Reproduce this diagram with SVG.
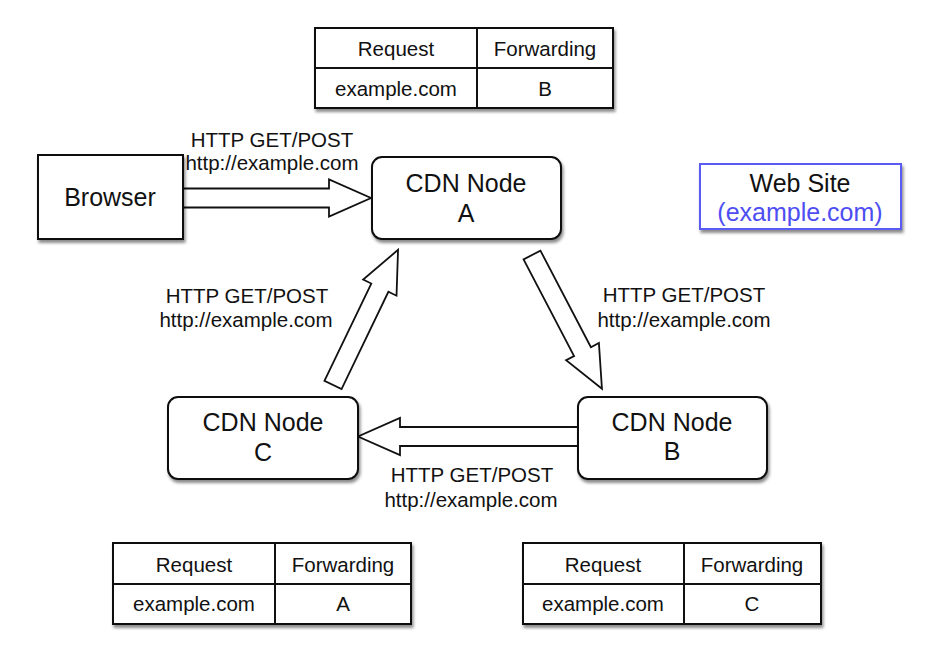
<svg xmlns="http://www.w3.org/2000/svg" width="932" height="646" viewBox="0 0 932 646">
  <defs>
    <filter id="shadow" x="-10%" y="-10%" width="130%" height="140%">
      <feDropShadow dx="1.5" dy="3" stdDeviation="1.8" flood-color="#000" flood-opacity="0.45"/>
    </filter>
  </defs>
  <style>
    text { font-family: "Liberation Sans", Arial, sans-serif; fill: #111; text-anchor: middle; }
    .node { font-size: 25px; }
    .lbl { font-size: 20.5px; }
    .tbl { font-size: 20.5px; }
    .box { fill: #fff; stroke: #111; stroke-width: 2; filter: url(#shadow); }
    .line { stroke: #111; stroke-width: 2; fill: none; }
    .arrow { fill: #fff; stroke: #111; stroke-width: 1.8; stroke-linejoin: miter; }
    .blue { fill: #4d4df2; }
  </style>
  <rect width="932" height="646" fill="#fff"/>

  <g id="connectors">
    <polygon class="arrow" transform="translate(182,198)" points="0,-9.5 147,-9.5 147,-18.5 189,0 147,18.5 147,9.5 0,9.5"/>
    <polygon class="arrow" transform="translate(532,255) rotate(62.4)" points="0,-9.5 109,-9.5 109,-18.5 151,0 109,18.5 109,9.5 0,9.5"/>
    <polygon class="arrow" transform="translate(333,385) rotate(-64.3)" points="0,-9.5 108,-9.5 108,-18.5 150,0 108,18.5 108,9.5 0,9.5"/>
    <polygon class="arrow" transform="translate(578,436.5) rotate(180)" points="0,-9.5 178,-9.5 178,-18.5 220,0 178,18.5 178,9.5 0,9.5"/>
    <text class="lbl" x="272" y="147">HTTP GET/POST</text>
    <text class="lbl" x="272" y="170">http://example.com</text>
    <text class="lbl" x="684" y="302">HTTP GET/POST</text>
    <text class="lbl" x="684" y="327">http://example.com</text>
    <text class="lbl" x="247" y="303">HTTP GET/POST</text>
    <text class="lbl" x="246" y="327">http://example.com</text>
    <text class="lbl" x="472" y="482">HTTP GET/POST</text>
    <text class="lbl" x="471" y="507">http://example.com</text>
  </g>

  <g id="table-top">
    <rect class="box" x="315" y="28" width="298" height="80"/>
    <line class="line" x1="315" y1="68" x2="613" y2="68"/>
    <line class="line" x1="477" y1="28" x2="477" y2="108"/>
    <text class="tbl" x="396" y="56">Request</text>
    <text class="tbl" x="545" y="56">Forwarding</text>
    <text class="tbl" x="396" y="96">example.com</text>
    <text class="tbl" x="545" y="96">B</text>
  </g>

  <g id="browser">
    <rect class="box" x="38" y="155" width="145" height="84"/>
    <text class="node" x="110" y="206">Browser</text>
  </g>

  <g id="cdn-a">
    <rect class="box" x="372" y="157" width="189" height="82" rx="10"/>
    <text class="node" x="466" y="192">CDN Node</text>
    <text class="node" x="466" y="222">A</text>
  </g>

  <g id="website">
    <rect x="700" y="164" width="201" height="65" fill="#fff" stroke="#5a5af5" stroke-width="2" filter="url(#shadow)"/>
    <text class="node" x="800" y="192">Web Site</text>
    <text class="node blue" x="800" y="221">(example.com)</text>
  </g>

  <g id="cdn-b">
    <rect class="box" x="578" y="397" width="189" height="82" rx="10"/>
    <text class="node" x="672" y="431">CDN Node</text>
    <text class="node" x="672" y="460">B</text>
  </g>

  <g id="cdn-c">
    <rect class="box" x="168" y="397" width="190" height="82" rx="10"/>
    <text class="node" x="263" y="431">CDN Node</text>
    <text class="node" x="263" y="461">C</text>
  </g>

  <g id="table-a">
    <rect class="box" x="113" y="543" width="298" height="81"/>
    <line class="line" x1="113" y1="584" x2="411" y2="584"/>
    <line class="line" x1="275" y1="543" x2="275" y2="624"/>
    <text class="tbl" x="194" y="572">Request</text>
    <text class="tbl" x="343" y="572">Forwarding</text>
    <text class="tbl" x="194" y="611">example.com</text>
    <text class="tbl" x="343" y="611">A</text>
  </g>

  <g id="table-c">
    <rect class="box" x="523" y="543" width="298" height="81"/>
    <line class="line" x1="523" y1="584" x2="821" y2="584"/>
    <line class="line" x1="684" y1="543" x2="684" y2="624"/>
    <text class="tbl" x="603" y="572">Request</text>
    <text class="tbl" x="752" y="572">Forwarding</text>
    <text class="tbl" x="603" y="611">example.com</text>
    <text class="tbl" x="752" y="611">C</text>
  </g>
</svg>
